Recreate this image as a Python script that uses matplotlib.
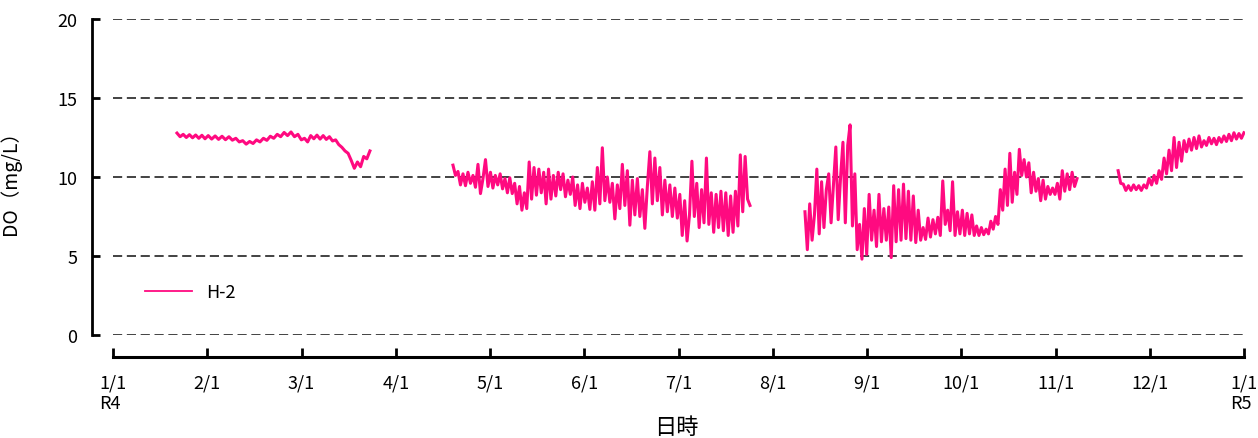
import numpy as np
import pandas as pd
import matplotlib
matplotlib.use('Agg')
import matplotlib.pyplot as plt

plt.rcParams['font.family'] = ['Noto Sans CJK JP', 'DejaVu Sans']

# H-2 dissolved oxygen record (mg/L), four logging periods in R4
seg1_start, seg1_end = '2022-01-22 01:00', '2022-03-23 12:00'
seg1_do = [12.78, 12.55, 12.70, 12.50, 12.68, 12.48,
           12.66, 12.45, 12.64, 12.42, 12.62, 12.40, 12.60,
           12.38, 12.58, 12.36, 12.55, 12.33,
           12.45, 12.22, 12.30, 12.08, 12.25,
           12.12, 12.35, 12.22, 12.45,
           12.32, 12.58, 12.45, 12.70,
           12.55, 12.82, 12.62, 12.85, 12.55, 12.70,
           12.35, 12.45, 12.22, 12.62,
           12.42, 12.65, 12.40, 12.62, 12.38,
           12.55, 12.28, 12.35, 12.05, 11.88,
           11.65, 11.50, 11.05, 10.55,
           10.95, 10.65, 11.30, 11.15, 11.65]

seg2_start, seg2_end = '2022-04-19 05:00', '2022-07-24 12:00'
seg2_do = [10.75,
           10.1, 10.35, 9.5, 10.2,
           9.45, 10.3, 9.6, 10.1, 9.35,
           10.8,
           8.95, 9.9,
           11.1, 9.4,
           10.3, 9.3, 10.1, 9.5, 10.2, 9.25, 9.9,
           9.0, 9.95, 8.95, 9.6,
           8.3, 9.4, 7.9, 9.0, 8.0,
           10.95, 8.6, 10.6,
           8.85, 10.5, 9.0, 10.3,
           8.3, 10.5, 8.6, 10.1,
           8.8, 10.3, 9.2,
           10.2, 8.75, 9.8, 8.9, 10.0,
           8.2, 9.5, 8.0, 9.6, 8.4, 9.3, 7.95,
           9.7, 7.9,
           10.6, 8.3, 11.85,
           8.5, 10.0, 8.4, 9.6,
           7.35, 9.5, 8.0,
           10.8, 8.2,
           10.4, 6.95, 9.8,
           7.6, 9.9, 7.5, 9.2,
           6.75, 9.4,
           11.6, 8.3, 11.2, 8.5, 10.6,
           7.6, 9.8, 7.8, 9.5, 7.5,
           9.3, 7.4, 8.9,
           6.3, 8.5, 5.95, 7.6,
           11.0,
           7.5, 9.6, 6.8, 9.2, 7.1,
           11.2, 7.0, 9.0,
           6.5, 8.9, 6.8, 9.1, 6.6,
           9.0, 6.3, 8.8, 6.5, 9.1, 6.9,
           11.4, 7.8, 11.3,
           8.6, 8.2]

seg3_start, seg3_end = '2022-08-11 14:00', '2022-11-07 20:00'
seg3_do = [7.8, 5.4,
           8.3, 6.0, 7.6,
           10.5,
           6.4, 9.7, 6.8, 9.2,
           10.2,
           7.1, 9.5,
           11.9,
           7.3, 10.0,
           12.2,
           7.1, 12.0,
           13.3,
           6.9, 10.2,
           5.4,
           7.0, 4.8,
           8.0, 5.1,
           8.9, 6.0,
           7.9, 5.6,
           8.9,
           5.9, 8.0, 6.0, 8.1,
           4.9,
           9.45, 5.9, 9.2, 6.0,
           9.55,
           6.1, 9.1, 6.0, 8.8,
           5.85, 7.9, 6.0,
           6.8, 6.05,
           7.4, 6.2, 7.3, 6.4, 7.45, 6.3,
           9.75, 7.0,
           7.9, 6.6, 9.7,
           6.3, 7.8, 6.4,
           7.9, 6.3, 7.7, 6.4, 7.6, 6.3,
           6.9, 6.3, 6.8, 6.35, 6.7, 6.4,
           7.2, 6.7, 7.5, 7.0,
           9.2, 7.9,
           10.5, 8.2,
           11.5, 8.4,
           10.3, 8.9,
           11.75, 10.1,
           11.1, 10.0, 10.9,
           9.0, 10.3, 9.1,
           9.9, 8.5, 9.8, 8.6,
           9.4, 8.9, 9.3, 8.9,
           9.6, 8.6,
           10.4,
           9.1, 10.2, 9.2, 10.3, 9.4, 9.9]

seg4_start, seg4_end = '2022-11-20 22:00', '2022-12-31 23:00'
seg4_do = [10.4, 9.6,
           9.55, 9.15, 9.45,
           9.15, 9.5, 9.2, 9.45, 9.15, 9.5, 9.3,
           9.9, 9.5, 10.1, 9.6,
           10.4, 9.85,
           11.2, 10.2, 11.7, 10.4,
           12.5, 10.6, 12.2, 11.0,
           12.3, 11.6, 12.4, 11.7,
           12.5, 11.8, 12.6, 11.9, 12.3, 12.0, 12.5,
           12.1, 12.45, 12.05, 12.5, 12.2,
           12.6, 12.25, 12.7, 12.3, 12.8, 12.4, 12.75, 12.45, 12.8]

segments = [(seg1_start, seg1_end, seg1_do),
            (seg2_start, seg2_end, seg2_do),
            (seg3_start, seg3_end, seg3_do),
            (seg4_start, seg4_end, seg4_do)]

month_labels = ['1/1\nR4', '2/1', '3/1', '4/1', '5/1', '6/1', '7/1',
                '8/1', '9/1', '10/1', '11/1', '12/1', '1/1\nR5']
y_ticks = [0, 5, 10, 15, 20]

LINE_COLOR = '#ff0a80'


def month_pos(ts):
    # every month gets the same width on the axis
    ts = pd.DatetimeIndex(ts)
    frac = (ts.day - 1 + ts.hour / 24.0 + ts.minute / 1440.0) / ts.days_in_month
    return np.asarray(ts.month - 1 + frac, dtype=float)


fig = plt.figure(figsize=(12.58, 4.39), dpi=100)
ax = fig.add_axes([92 / 1258, 1 - 336 / 439, (1245 - 92) / 1258, 316 / 439])

for y in y_ticks:
    ax.hlines(y, 0, 12, colors='#222222', linewidth=1.2,
              linestyles=(0, (5.5, 2.8)), zorder=1)

for i, (start, end, vals) in enumerate(segments):
    t = pd.date_range(start, end, periods=len(vals))
    ax.plot(month_pos(t), vals, color=LINE_COLOR, linewidth=2.2,
            solid_joinstyle='round',
            label='H-2' if i == 0 else None, zorder=3)

ax.set_xlim(-21 / 94.25, 12.01)
ax.set_ylim(0, 20)

ax.spines['top'].set_visible(False)
ax.spines['right'].set_visible(False)
ax.spines['left'].set_linewidth(2)
ax.spines['bottom'].set_linewidth(2.2)
ax.spines['bottom'].set_position(('outward', 15.8))
ax.spines['bottom'].set_bounds(0, 12)

ax.set_yticks(y_ticks)
ax.set_xticks(range(13))
ax.set_xticklabels(month_labels)
for lab in ax.get_xticklabels():
    lab.set_multialignment('left')

ax.tick_params(axis='y', direction='in', length=6, width=2, pad=10.5,
               labelsize=13)
ax.tick_params(axis='x', direction='in', length=6.5, width=2, pad=12,
               labelsize=13)

ax.set_ylabel('DO（mg/L）', fontsize=14)
ax.yaxis.set_label_coords(-0.062, 0.5)
fig.text(676 / 1258, 1 - 428 / 439, '日時', fontsize=16,
         ha='center', va='center')

leg = ax.legend(loc='center left', bbox_to_anchor=(53 / 1153, 43 / 316),
                frameon=False, fontsize=13, handlelength=2.6,
                handletextpad=0.8, borderpad=0, borderaxespad=0)
for h in leg.get_lines():
    h.set_linewidth(1.3)

fig.savefig('out.png', dpi=100)
